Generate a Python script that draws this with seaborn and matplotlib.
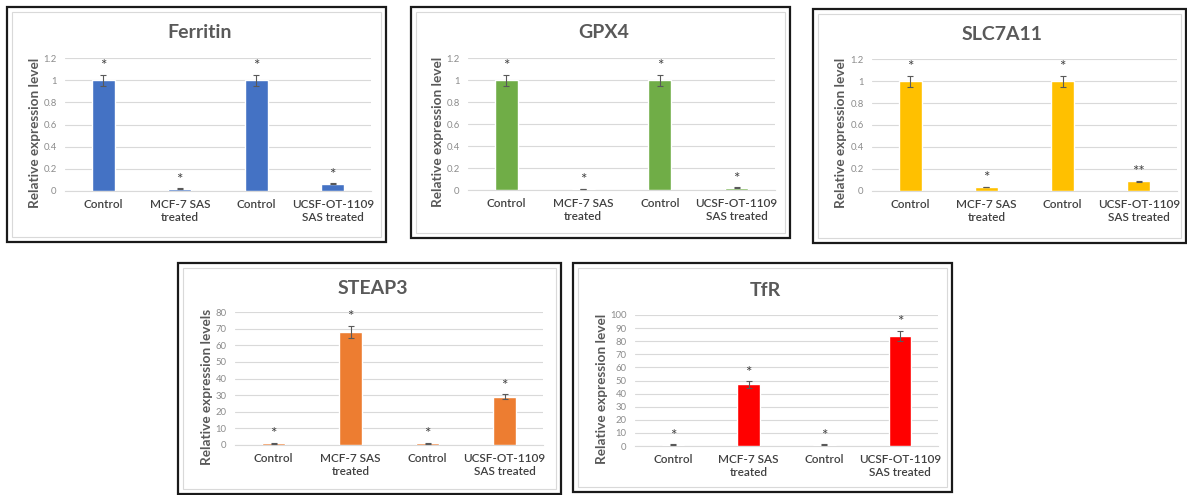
import numpy as np
import pandas as pd
import matplotlib
matplotlib.use("Agg")
import matplotlib.pyplot as plt
from matplotlib.patches import Rectangle
import seaborn as sns

sns.set_theme(style="white")
plt.rcParams["font.family"] = ["Lato", "DejaVu Sans"]

# ---- data -------------------------------------------------------------
groups = ["MCF-7 control", "MCF-7 SAS treated",
          "UCSF-OT-1109 control", "UCSF-OT-1109 SAS treated"]
tick_labels = ["Control", "MCF-7 SAS\ntreated", "Control", "UCSF-OT-1109\nSAS treated"]

genes = ["Ferritin", "GPX4", "SLC7A11", "STEAP3", "TfR"]

ferritin_mean = [1.0, 0.02, 1.0, 0.065]
ferritin_err = [0.05, 0.003, 0.05, 0.005]
ferritin_sig = ["*", "*", "*", "*"]

gpx4_mean = [1.0, 0.01, 1.0, 0.02]
gpx4_err = [0.05, 0.002, 0.05, 0.004]
gpx4_sig = ["*", "*", "*", "*"]

slc7a11_mean = [1.0, 0.035, 1.0, 0.09]
slc7a11_err = [0.05, 0.003, 0.05, 0.005]
slc7a11_sig = ["*", "*", "*", "**"]

steap3_mean = [1.0, 68.0, 1.0, 29.0]
steap3_err = [0.3, 3.5, 0.3, 1.5]
steap3_sig = ["*", "*", "*", "*"]

tfr_mean = [1.0, 47.0, 1.0, 84.0]
tfr_err = [0.3, 2.5, 0.3, 4.0]
tfr_sig = ["*", "*", "*", "*"]

y_labels = ["Relative expression level", "Relative expression level",
            "Relative expression level", "Relative expression levels",
            "Relative expression level"]
y_max = [1.2, 1.2, 1.2, 80, 100]
y_step = [0.2, 0.2, 0.2, 10, 10]
colors = ["#4472C4", "#70AD47", "#FFC000", "#ED7D31", "#FF0000"]

means = [ferritin_mean, gpx4_mean, slc7a11_mean, steap3_mean, tfr_mean]
errs = [ferritin_err, gpx4_err, slc7a11_err, steap3_err, tfr_err]
sigs = [ferritin_sig, gpx4_sig, slc7a11_sig, steap3_sig, tfr_sig]

# ---- layout (pixels) --------------------------------------------------
W, H = 1187, 495
fig = plt.figure(figsize=(W / 100, H / 100), dpi=100)
fig.patch.set_facecolor("white")

# frame box (x0, y0, x1, y1), plot area (x0, y0, x1, y1), title y, ylabel x
frames = [(7, 7, 386, 242), (411, 7, 790, 238), (813, 9, 1186, 243),
          (178, 263, 561, 494), (573, 263, 952, 492)]
plots = [(65, 58, 371, 191), (468, 58, 775, 190), (872, 59, 1177, 191),
         (235, 312, 543, 445), (635, 315, 938, 446)]
title_y = [33, 33, 35, 288, 291]
ylab_x = [35, 438, 841, 207, 602]


def fx(px):
    return px / W


def fy(py):
    return 1 - py / H


for i, gene in enumerate(genes):
    bx0, by0, bx1, by1 = frames[i]
    # outer black frame and inner light chart-area border
    fig.patches.append(Rectangle((fx(bx0), fy(by1)), fx(bx1 - bx0), (by1 - by0) / H,
                                 transform=fig.transFigure, fill=False,
                                 edgecolor="#1a1a1a", linewidth=1.6, zorder=5))
    fig.patches.append(Rectangle((fx(bx0 + 5), fy(by1 - 5)), fx(bx1 - bx0 - 10),
                                 (by1 - by0 - 10) / H,
                                 transform=fig.transFigure, fill=False,
                                 edgecolor="#d9d9d9", linewidth=0.8, zorder=5))

    px0, py0, px1, py1 = plots[i]
    ax = fig.add_axes([fx(px0), fy(py1), fx(px1 - px0), (py1 - py0) / H])

    df = pd.DataFrame({"group": groups, "value": means[i], "err": errs[i]})
    sns.barplot(data=df, x="group", y="value", order=groups, color=colors[i],
                saturation=1, width=0.3, errorbar=None, ax=ax, zorder=3)

    centers = [p.get_x() + p.get_width() / 2 for p in ax.patches]
    ax.errorbar(centers, df["value"], yerr=df["err"], fmt="none",
                ecolor="#595959", elinewidth=0.8, capsize=2.2, capthick=0.8, zorder=4)

    ym = y_max[i]
    for c, v, e, s in zip(centers, df["value"], df["err"], sigs[i]):
        ax.text(c, v + e + 0.065 * ym, s, ha="center", va="center",
                fontsize=11, color="#404040", zorder=5)

    ax.set_xlim(-0.5, 3.5)
    ax.set_ylim(0, ym)
    ax.set_yticks(np.arange(0, ym + y_step[i] / 2, y_step[i]))
    ax.yaxis.set_major_formatter(matplotlib.ticker.FuncFormatter(
        lambda v, _: f"{v:g}"))
    ax.set_xticks(range(len(groups)))
    ax.set_xticklabels(tick_labels, fontsize=8.5, color="#404040",
                       fontweight="semibold", linespacing=1.2)
    ax.tick_params(axis="x", length=0, pad=6)
    ax.tick_params(axis="y", length=0, pad=6, labelsize=6.8, labelcolor="#8c8c8c")
    ax.grid(axis="y", color="#d9d9d9", linewidth=0.8, zorder=0)
    ax.set_axisbelow(True)
    for side in ["top", "right", "left"]:
        ax.spines[side].set_visible(False)
    ax.spines["bottom"].set_color("#d9d9d9")
    ax.spines["bottom"].set_linewidth(0.8)
    ax.set_xlabel("")
    ax.set_ylabel("")
    ax.set_facecolor("none")

    fig.text(fx((bx0 + bx1) / 2 + 3), fy(title_y[i]), gene, ha="center", va="center",
             fontsize=14, fontweight="bold", color="#595959")
    fig.text(fx(ylab_x[i]), fy((py0 + py1) / 2 + 8), y_labels[i], rotation=90,
             ha="center", va="center", fontsize=9.8, fontweight="bold", color="#595959")

fig.savefig("out.png", dpi=100, facecolor="white")
